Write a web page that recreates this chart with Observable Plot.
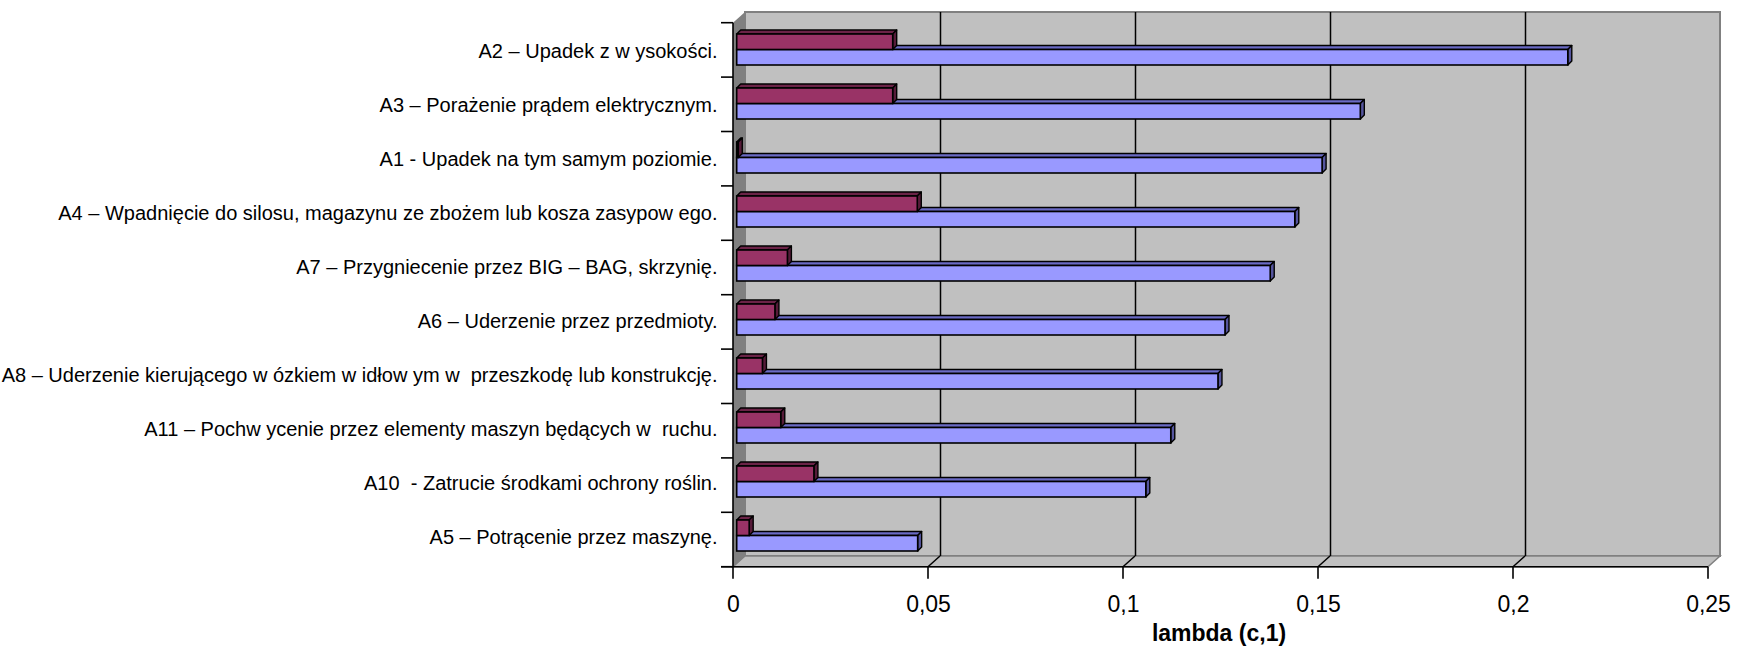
<!DOCTYPE html>
<html><head><meta charset="utf-8">
<script src="https://cdn.jsdelivr.net/npm/d3@7"></script>
<script src="https://cdn.jsdelivr.net/npm/@observablehq/plot@0.6"></script>
<style>
html,body{margin:0;padding:0;background:#fff;}
svg{display:block;}
g[aria-label="category labels"] text{letter-spacing:-0.2px;}
</style></head><body><div id="chart"></div>
<script>
const categories = [
  "A2 – Upadek z w ysokości.",
  "A3 – Porażenie prądem elektrycznym.",
  "A1 - Upadek na tym samym poziomie.",
  "A4 – Wpadnięcie do silosu, magazynu ze zbożem lub kosza zasypow ego.",
  "A7 – Przygniecenie przez BIG – BAG, skrzynię.",
  "A6 – Uderzenie przez przedmioty.",
  "A8 – Uderzenie kierującego w ózkiem w idłow ym w  przeszkodę lub konstrukcję.",
  "A11 – Pochw ycenie przez elementy maszyn będących w  ruchu.",
  "A10  - Zatrucie środkami ochrony roślin.",
  "A5 – Potrącenie przez maszynę."
];
const seriesBlue = [0.2131, 0.1599, 0.1501, 0.1431, 0.1368, 0.1252, 0.1234, 0.1113, 0.1049, 0.0464];
const seriesRed  = [0.0400, 0.0400, 0.0004, 0.0463, 0.0130, 0.0098, 0.0066, 0.0113, 0.0198, 0.0032];
const xTicks = [0, 0.05, 0.1, 0.15, 0.2, 0.25];
const xTickLabels = ["0", "0,05", "0,1", "0,15", "0,2", "0,25"];
const axisTitle = "lambda (c,1)";

const blueRows = categories.map((c, i) => ({cat: c, value: seriesBlue[i]}));
const redRows = categories.map((c, i) => ({cat: c, value: seriesRed[i]}));

const W = 1738, H = 668;
const mL = 733, mR = 30, mT = 22.7, mB = 101.3;
const PAD = 0.43;
const step = (H - mT - mB) / categories.length;
const half = step * (1 - PAD) / 2;
const DX = 12, DY = 10.7;   // wall depth
const BX = 3.7, BY = 2;     // bar front-face offset
const FX = 4, FY = 4;       // bar depth
const FONT = "Liberation Sans, Arial, sans-serif";

const pts = a => a.map(p => p.join(",")).join(" ");

function wallsMark(index, s, v, d) {
  const g = d3.create("svg:g");
  const x0 = s.x(0), x1 = s.x(0.25);
  const yT = d.marginTop, yB = d.height - d.marginBottom;
  g.append("rect").attr("x", x0 + DX).attr("y", yT - DY).attr("width", x1 - x0).attr("height", yB - yT)
    .attr("fill", "#c0c0c0").attr("stroke", "#808080").attr("stroke-width", 2);
  g.append("polygon").attr("points", pts([[x0, yB], [x0 + DX, yB - DY], [x1 + DX, yB - DY], [x1, yB]]))
    .attr("fill", "#c0c0c0").attr("stroke", "#808080").attr("stroke-width", 1.5);
  g.append("polygon").attr("points", pts([[x0, yT], [x0 + DX, yT - DY], [x0 + DX, yB - DY], [x0, yB]]))
    .attr("fill", "#808080");
  xTicks.slice(1, -1).forEach(t => {
    const x = s.x(t);
    g.append("line").attr("x1", x).attr("y1", yB).attr("x2", x + DX).attr("y2", yB - DY)
      .attr("stroke", "black").attr("stroke-width", 1.5);
  });
  return g.node();
}

function depthMark(rows, top, colTop, colSide) {
  return (index, s, v, d) => {
    const g = d3.create("svg:g");
    rows.forEach(r => {
      const x0 = s.x(0) + BX, x1 = s.x(r.value) + BX;
      const yc = s.y(r.cat) + (s.y.bandwidth ? s.y.bandwidth() / 2 : half);
      const yt = (top ? yc - half : yc) - BY, yb = yt + half;
      g.append("polygon").attr("points", pts([[x0, yt], [x0 + FX, yt - FY], [x1 + FX, yt - FY], [x1, yt]]))
        .attr("fill", colTop).attr("stroke", "black").attr("stroke-width", 1.4).attr("stroke-linejoin", "round");
      g.append("polygon").attr("points", pts([[x1, yt], [x1 + FX, yt - FY], [x1 + FX, yb - FY], [x1, yb]]))
        .attr("fill", colSide).attr("stroke", "black").attr("stroke-width", 1.4).attr("stroke-linejoin", "round");
    });
    return g.node();
  };
}

function axesMark(index, s, v, d) {
  const g = d3.create("svg:g").attr("stroke", "black").attr("stroke-width", 1.6);
  const x0 = s.x(0), x1 = s.x(0.25);
  const yT = d.marginTop, yB = d.height - d.marginBottom;
  g.append("line").attr("x1", x0).attr("x2", x0).attr("y1", yT).attr("y2", yB);
  g.append("line").attr("x1", x0 - 12).attr("x2", x1).attr("y1", yB).attr("y2", yB);
  for (let i = 0; i <= categories.length; i++) {
    const y = yT + i * step;
    g.append("line").attr("x1", x0 - 12).attr("x2", x0).attr("y1", y).attr("y2", y);
  }
  xTicks.forEach(t => {
    const x = s.x(t);
    g.append("line").attr("x1", x).attr("x2", x).attr("y1", yB).attr("y2", yB + 12);
  });
  return g.node();
}

const chart = Plot.plot({
  width: W, height: H,
  marginLeft: mL, marginRight: mR, marginTop: mT, marginBottom: mB,
  x: {domain: [0, 0.25], axis: null},
  y: {domain: categories, axis: null, paddingInner: PAD, paddingOuter: PAD / 2, align: 0.5},
  style: {fontFamily: FONT, background: "white", color: "black", overflow: "visible"},
  marks: [
    wallsMark,
    Plot.ruleX(xTicks.slice(1, -1), {dx: DX, dy: -DY, stroke: "black", strokeWidth: 1.5}),
    depthMark(blueRows, false, "#6a6ac4", "#55559e"),
    Plot.barX(blueRows, {x: "value", y: "cat", insetTop: half, fill: "#9999ff", stroke: "black", strokeWidth: 1.6, dx: BX, dy: -BY}),
    depthMark(redRows, true, "#6b2347", "#561b39"),
    Plot.barX(redRows, {x: "value", y: "cat", insetBottom: half, fill: "#993366", stroke: "black", strokeWidth: 1.6, dx: BX, dy: -BY}),
    axesMark,
    Plot.text(categories, {y: d => d, text: d => d, frameAnchor: "left", textAnchor: "end", dx: -16, fontSize: 20, fill: "black", fontFamily: FONT, ariaLabel: "category labels"}),
    Plot.text(xTicks, {x: d => d, text: (d, i) => xTickLabels[i], frameAnchor: "bottom", lineAnchor: "top", dy: 28, fontSize: 23, fill: "black", fontFamily: FONT}),
    Plot.text([axisTitle], {text: d => d, frameAnchor: "bottom", dx: -2, dy: 74, fontSize: 23, fontWeight: "bold", fill: "black", fontFamily: FONT})
  ]
});
document.getElementById("chart").appendChild(chart);
</script></body></html>
